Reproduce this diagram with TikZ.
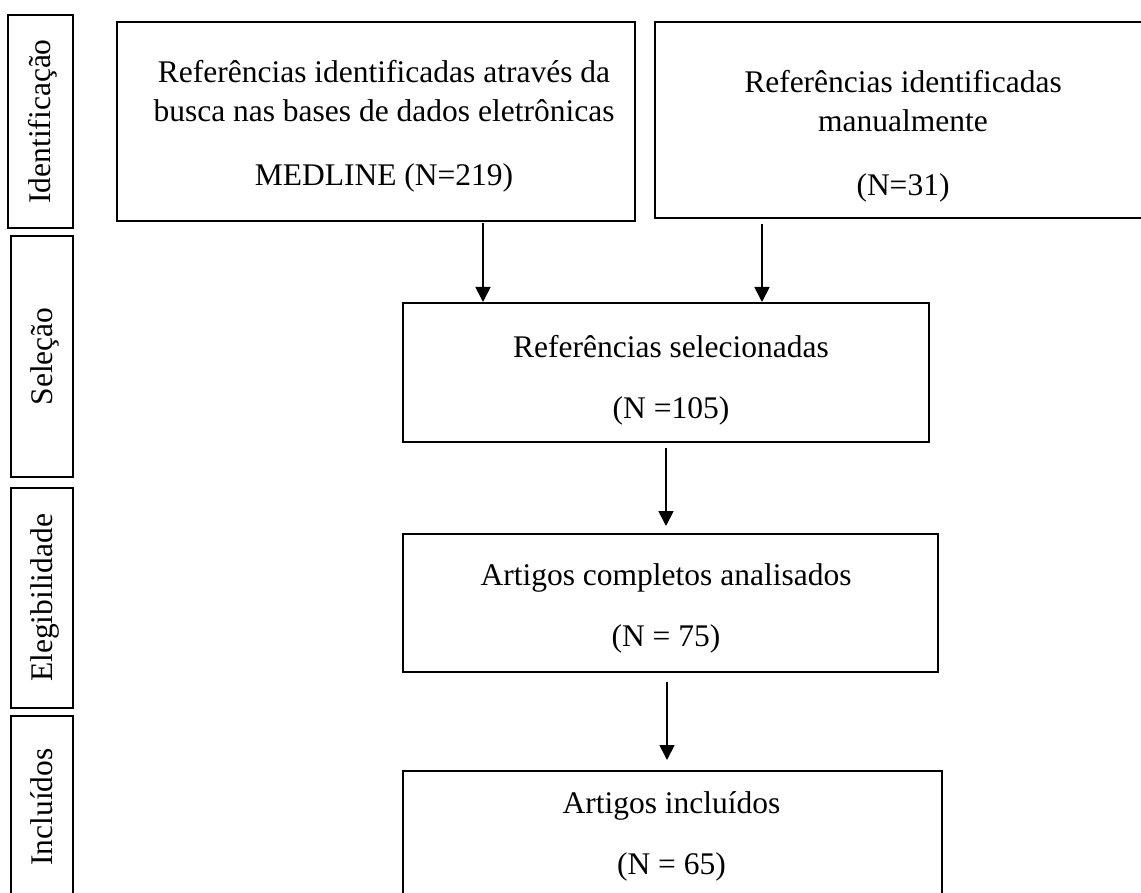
\documentclass[tikz,border=0pt]{standalone}
\usepackage{fontspec}
\setmainfont{Liberation Serif}
\usepackage{tikz}
\usetikzlibrary{arrows.meta,positioning}
\tikzstyle{caixa}=[draw, line width=1.6pt, inner sep=0pt,
                   outer sep=0pt]
\tikzstyle{texto}=[align=center, inner sep=0pt,
                   font=\fontsize{31.5}{39}\selectfont]
\tikzstyle{etapa}=[draw, line width=1.6pt, inner sep=0pt,
                   outer sep=0pt, rotate=90, text height=24pt,
                   text depth=4pt, font=\fontsize{31.5}{39}\selectfont]
\tikzstyle{seta}=[-{Triangle[width=15pt,length=15pt]},
                  line width=1.8pt]

\begin{document}
\begin{tikzpicture}[x=1pt,y=-1pt]
    \useasboundingbox (0,0) rectangle (1141,893);
    \clip (0,0) rectangle (1141,893);

    % etapas
    \node[etapa, minimum width=213pt, minimum height=65pt] (ident) at (40.5,121.5) {Identificação};
    \node[etapa, minimum width=241pt, minimum height=62pt] (sel) at (42,356.5) {Seleção};
    \node[etapa, minimum width=220pt, minimum height=62pt] (eleg) at (42,598) {Elegibilidade};
    \node[etapa, minimum width=182pt, minimum height=62pt] (incl) at (42,807) {Incluídos};

    % caixas
    \node[caixa, minimum width=518pt, minimum height=199pt] (refbase) at (376,121.5) {};
    \node[caixa, minimum width=496pt, minimum height=196pt] (refman) at (903,120) {};
    \node[caixa, minimum width=526pt, minimum height=139pt] (refsel) at (666,372.5) {};
    \node[caixa, minimum width=535pt, minimum height=138pt] (artcomp) at (670.5,603) {};
    \node[caixa, minimum width=539pt, minimum height=140pt] (artinc) at (672.5,841) {};

    % textos
    \node[texto] (refbasetxt) at (384,126.3) {Referências identificadas através da\\
        busca nas bases de dados eletrônicas\\[25pt] MEDLINE (N=219)};
    \node[texto] (refmantxt) at (903,136.5) {Referências identificadas\\
        manualmente\\[25pt] (N=31)};
    \node[texto] (refseltxt) at (671,380.5) {Referências selecionadas\\[22pt] (N =105)};
    \node[texto] (artcomptxt) at (666,608.5) {Artigos completos analisados\\[22pt] (N = 75)};
    \node[texto] (artinctxt) at (671.5,836.5) {Artigos incluídos\\[22pt] (N = 65)};

    % setas
    \coordinate (x1) at (483,0);
    \coordinate (x2) at (762,0);
    \coordinate (x3) at (666,0);
    \coordinate (x4) at (667,0);
    \draw[seta, shorten <=2pt, shorten >=1pt] (refbase.south -| x1) -- (refsel.north -| x1);
    \draw[seta, shorten <=6pt, shorten >=1pt] (refman.south -| x2) -- (refsel.north -| x2);
    \draw[seta, shorten <=6pt, shorten >=8pt] (refsel.south -| x3) -- (artcomp.north -| x3);
    \draw[seta, shorten <=10pt, shorten >=11pt] (artcomp.south -| x4) -- (artinc.north -| x4);
\end{tikzpicture}
\end{document}
